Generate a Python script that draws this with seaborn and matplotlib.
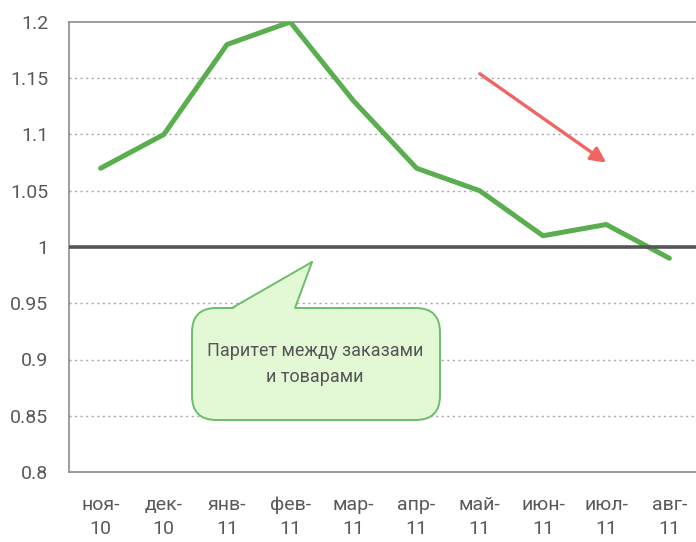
import matplotlib
matplotlib.use("Agg")
import matplotlib.pyplot as plt
from matplotlib.patches import FancyBboxPatch, Polygon
from matplotlib.lines import Line2D
import seaborn as sns
import pandas as pd

months = ["ноя-\n10", "дек-\n10", "янв-\n11", "фев-\n11", "мар-\n11",
          "апр-\n11", "май-\n11", "июн-\n11", "июл-\n11", "авг-\n11"]
ratio = [1.07, 1.10, 1.18, 1.20, 1.13, 1.07, 1.05, 1.01, 1.02, 0.99]
y_ticks = [0.8, 0.85, 0.9, 0.95, 1.0, 1.05, 1.1, 1.15, 1.2]
y_tick_labels = ["0.8", "0.85", "0.9", "0.95", "1", "1.05", "1.1", "1.15", "1.2"]
parity_level = 1.0
callout_text = "Паритет между заказами\nи товарами"

df = pd.DataFrame({"pos": range(len(months)), "ratio": ratio})

sns.set_style("white")
plt.rcParams["font.family"] = ["Roboto", "DejaVu Sans"]

W, H = 696, 542
fig = plt.figure(figsize=(W / 100, H / 100), dpi=100)
ax = fig.add_axes([69 / W, 1 - 472 / H, 632 / W, 450 / H])

TICK_GRAY = "#595959"
AXIS_GRAY = "#8c8c8c"

# dotted horizontal gridlines
for v in y_ticks[1:-1]:
    ax.axhline(v, color="#a6a6a6", lw=1.0, ls=(0, (1.5, 2.5)), zorder=1)

sns.lineplot(data=df, x="pos", y="ratio", ax=ax, color="#5aae4f",
             lw=3.6, zorder=3, solid_capstyle="round", solid_joinstyle="round")

# parity line
ax.axhline(parity_level, color="#555555", lw=2.6, zorder=4)

ax.set_xlim(-0.5, len(months) - 0.5)
ax.set_ylim(0.8, 1.2)
ax.set_xlabel("")
ax.set_ylabel("")

# category labels centered, tick marks on category boundaries
ax.set_xticks([i - 0.5 for i in range(len(months) + 1)])
ax.set_xticklabels([])
ax.set_xticks(range(len(months)), minor=True)
ax.set_xticklabels(months, minor=True, fontsize=14, color=TICK_GRAY,
                   linespacing=1.45)
ax.tick_params(axis="x", which="major", length=7, width=1, color=AXIS_GRAY,
               direction="out")
ax.tick_params(axis="x", which="minor", length=0, pad=17)

ax.set_yticks(y_ticks)
ax.set_yticklabels(y_tick_labels, fontsize=14, color=TICK_GRAY)
ax.tick_params(axis="y", length=7, width=1, color=AXIS_GRAY, direction="out",
               pad=8)

for side in ["left", "bottom", "top"]:
    ax.spines[side].set_visible(True)
    ax.spines[side].set_color(AXIS_GRAY)
    ax.spines[side].set_linewidth(1.2)
ax.spines["right"].set_visible(False)
ax.grid(False)

# trend arrow
ax.annotate("", xy=(8.0, 1.075), xytext=(6.0, 1.154),
            arrowprops=dict(arrowstyle="-|>,head_length=0.9,head_width=0.45",
                            color="#f06464", lw=2.4, shrinkA=0, shrinkB=0),
            zorder=5)

# callout bubble in pixel-based figure coordinates
def fx(px):
    return px / W

def fy(py):
    return 1 - py / H

FILL = "#e3f9d6"
EDGE = "#6cbd6a"
box = FancyBboxPatch((fx(192), fy(420)), fx(440) - fx(192), fy(308) - fy(420),
                     boxstyle="round,pad=0,rounding_size=0.035",
                     transform=fig.transFigure, facecolor=FILL, edgecolor=EDGE,
                     lw=1.4, zorder=6, mutation_aspect=W / H)
fig.patches.append(box)
tail = Polygon([(fx(232), fy(309.5)), (fx(312), fy(262)), (fx(295), fy(309.5))],
               closed=True, transform=fig.transFigure, facecolor=FILL,
               edgecolor="none", zorder=7)
fig.patches.append(tail)
for (x0, y0), (x1, y1) in [((232, 308), (312, 262)), ((312, 262), (295, 308))]:
    fig.lines.append(Line2D([fx(x0), fx(x1)], [fy(y0), fy(y1)], color=EDGE,
                            lw=1.4, transform=fig.transFigure, zorder=8))
fig.text(fx(315), fy(364), callout_text, ha="center", va="center",
         multialignment="center", fontsize=13, color="#555555",
         linespacing=1.55, zorder=9)

fig.savefig("out.png", dpi=100)
